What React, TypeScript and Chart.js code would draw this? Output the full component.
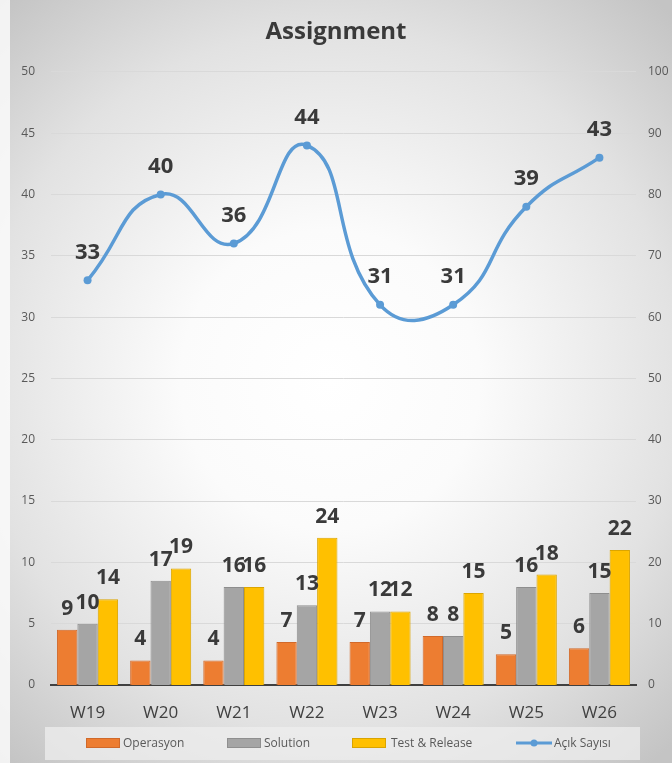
import React, { useEffect, useRef } from "react";
import { Chart, registerables } from "chart.js";

Chart.register(...registerables);

const categories = ["W19", "W20", "W21", "W22", "W23", "W24", "W25", "W26"];
const operasyon = [9, 4, 4, 7, 7, 8, 5, 6];
const solution = [10, 17, 16, 13, 12, 8, 16, 15];
const testRelease = [14, 19, 16, 24, 12, 15, 18, 22];
const acikSayisi = [33, 40, 36, 44, 31, 31, 39, 43];
const leftTicks = [0, 5, 10, 15, 20, 25, 30, 35, 40, 45, 50];
const rightTicks = [0, 10, 20, 30, 40, 50, 60, 70, 80, 90, 100];

const FONT = "'Open Sans', 'Noto Sans', sans-serif";

const bgPlugin = {
  id: "bgPlugin",
  beforeDraw(chart: any) {
    const { ctx, width, height } = chart;
    ctx.save();
    const g = ctx.createRadialGradient(330, 380, 0, 330, 380, 500);
    g.addColorStop(0, "#ffffff");
    g.addColorStop(0.3, "#fbfbfb");
    g.addColorStop(0.7, "#e2e2e2");
    g.addColorStop(1, "#c4c4c4");
    ctx.fillStyle = g;
    ctx.fillRect(0, 0, width, height);
    ctx.fillStyle = "rgba(250,250,250,0.85)";
    ctx.fillRect(0, 0, 10, height);
    ctx.restore();
  },
};

const labelPlugin = {
  id: "labelPlugin",
  afterDatasetsDraw(chart: any) {
    const { ctx } = chart;
    ctx.save();
    ctx.fillStyle = "#3a3a3a";
    ctx.textAlign = "center";
    ctx.textBaseline = "middle";
    chart.data.datasets.forEach((ds: any, i: number) => {
      const meta = chart.getDatasetMeta(i);
      const isLine = ds.type === "line";
      ctx.font = `bold ${isLine ? 22 : 21}px ${FONT}`;
      meta.data.forEach((el: any, j: number) => {
        const v = ds.data[j];
        const off = isLine ? 28 : 21;
        ctx.fillText(String(v), el.x, el.y - off);
      });
    });
    ctx.restore();
  },
};

const legendPlugin = {
  id: "customLegend",
  afterDraw(chart: any) {
    const { ctx } = chart;
    ctx.save();
    ctx.fillStyle = "rgba(238,238,238,0.75)";
    ctx.fillRect(45, 727, 595, 33);
    ctx.font = `12px ${FONT}`;
    ctx.textBaseline = "middle";
    ctx.textAlign = "left";
    const y = 743;
    const items = [
      { x: 86, tx: 123, label: "Operasyon", color: "#ED7D31", border: "#d0692a", kind: "box" },
      { x: 227, tx: 264, label: "Solution", color: "#A5A5A5", border: "#8f8f8f", kind: "box" },
      { x: 352, tx: 391, label: "Test & Release", color: "#FFC000", border: "#d9a400", kind: "box" },
      { x: 516, tx: 554, label: "Açık Sayısı", color: "#5B9BD5", border: "#5B9BD5", kind: "line" },
    ];
    items.forEach((it) => {
      if (it.kind === "box") {
        ctx.fillStyle = it.color;
        ctx.fillRect(it.x, y - 5, 34, 10);
        ctx.strokeStyle = it.border;
        ctx.lineWidth = 1;
        ctx.strokeRect(it.x + 0.5, y - 4.5, 33, 9);
      } else {
        ctx.strokeStyle = it.color;
        ctx.lineWidth = 3;
        ctx.beginPath();
        ctx.moveTo(it.x, y);
        ctx.lineTo(it.x + 36, y);
        ctx.stroke();
        ctx.fillStyle = it.color;
        ctx.beginPath();
        ctx.arc(it.x + 18, y, 3.5, 0, Math.PI * 2);
        ctx.fill();
      }
      ctx.fillStyle = "#595959";
      ctx.fillText(it.label, it.tx, y + 1);
    });
    ctx.restore();
  },
};

export default function App() {
  const ref = useRef<HTMLCanvasElement>(null);
  useEffect(() => {
    if (!ref.current) return;
    const chart = new Chart(ref.current, {
      data: {
        labels: categories,
        datasets: [
          {
            type: "line",
            label: "Açık Sayısı",
            data: acikSayisi,
            yAxisID: "y",
            borderColor: "#5B9BD5",
            backgroundColor: "#5B9BD5",
            borderWidth: 3.5,
            pointRadius: 4,
            pointBackgroundColor: "#5B9BD5",
            pointBorderWidth: 0,
            tension: 0.5,
            order: 0,
          },
          {
            type: "bar",
            label: "Operasyon",
            data: operasyon,
            yAxisID: "y1",
            backgroundColor: "#ED7D31",
            borderColor: "#d2692a",
            borderWidth: 1,
            categoryPercentage: 0.835,
            barPercentage: 1,
            order: 1,
          },
          {
            type: "bar",
            label: "Solution",
            data: solution,
            yAxisID: "y1",
            backgroundColor: "#A5A5A5",
            borderColor: "#8e8e8e",
            borderWidth: 1,
            categoryPercentage: 0.835,
            barPercentage: 1,
            order: 1,
          },
          {
            type: "bar",
            label: "Test & Release",
            data: testRelease,
            yAxisID: "y1",
            backgroundColor: "#FFC000",
            borderColor: "#dba500",
            borderWidth: 1,
            categoryPercentage: 0.835,
            barPercentage: 1,
            order: 1,
          },
        ],
      } as any,
      options: {
        animation: false,
        responsive: true,
        maintainAspectRatio: false,
        layout: { padding: { top: 0, left: 0, right: 0, bottom: 37 } },
        plugins: {
          legend: { display: false },
          tooltip: { enabled: false },
          title: {
            display: true,
            text: "Assignment",
            color: "#3a3a3a",
            font: { family: FONT, size: 24, weight: "bold" },
            padding: { top: 18, bottom: 25 },
          },
        },
        scales: {
          x: {
            grid: { display: false, drawTicks: false },
            border: { display: true, color: "#404040", width: 2 },
            ticks: {
              color: "#404040",
              font: { family: FONT, size: 17 },
              padding: 18,
            },
            afterFit(s: any) {
              s.height = 41;
            },
          },
          y: {
            position: "left",
            min: 0,
            max: 50,
            afterBuildTicks(s: any) {
              s.ticks = leftTicks.map((v) => ({ value: v }));
            },
            grid: { color: "#d9d9d9", lineWidth: 1, drawTicks: false },
            border: { display: false },
            ticks: {
              color: "#595959",
              font: { family: FONT, size: 12 },
              padding: 16,
            },
            afterFit(s: any) {
              s.width = 51;
            },
          },
          y1: {
            position: "right",
            min: 0,
            max: 100,
            afterBuildTicks(s: any) {
              s.ticks = rightTicks.map((v) => ({ value: v }));
            },
            grid: { display: false, drawTicks: false },
            border: { display: false },
            ticks: {
              color: "#595959",
              font: { family: FONT, size: 12 },
              padding: 12,
            },
            afterFit(s: any) {
              s.width = 36;
            },
          },
        },
      } as any,
      plugins: [bgPlugin, labelPlugin, legendPlugin],
    });
    return () => chart.destroy();
  }, []);
  return (
    <div style={{ position: "fixed", left: 0, top: 0, width: 672, height: 763 }}>
      <canvas ref={ref} />
    </div>
  );
}
